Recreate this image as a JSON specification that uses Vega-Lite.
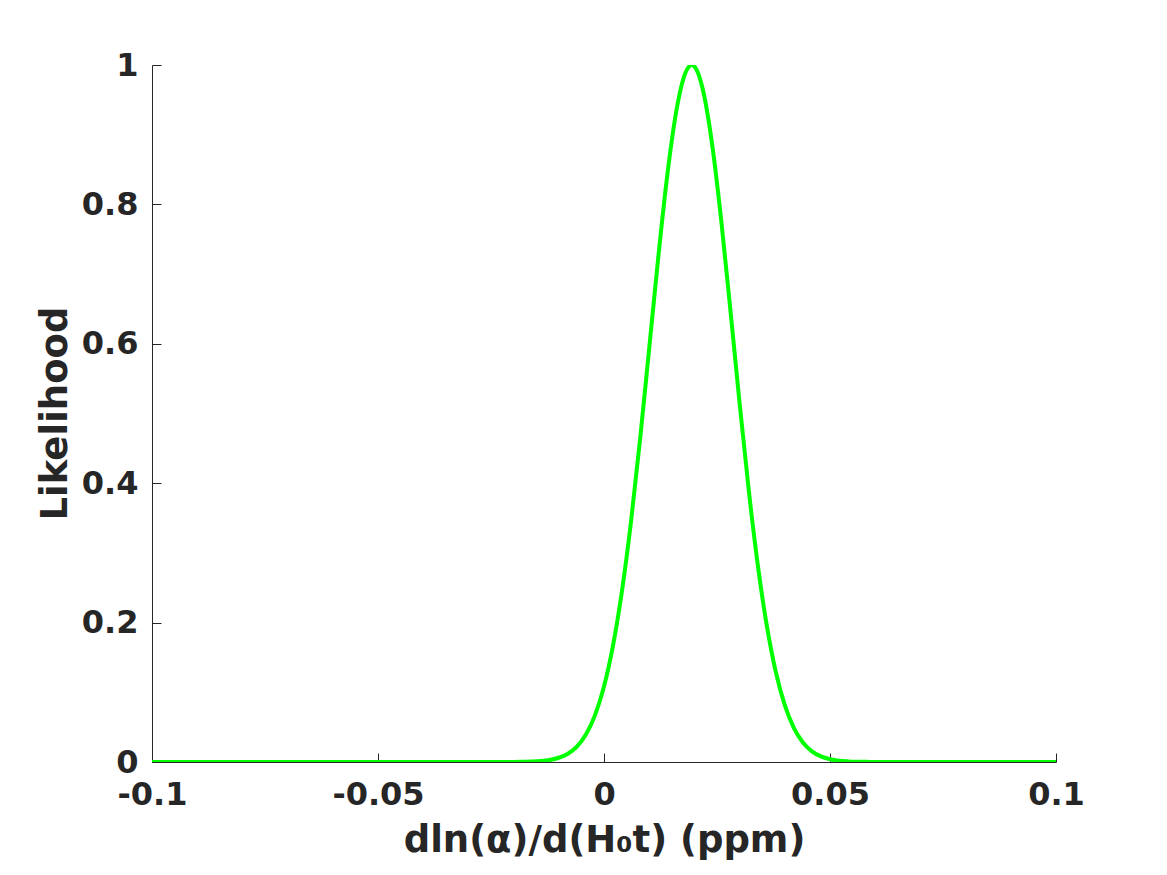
{
  "$schema": "https://vega.github.io/schema/vega-lite/v6.json",
  "autosize": {"type": "none"},
  "width": 904,
  "height": 697,
  "padding": {"left": 152, "top": 65, "right": 111, "bottom": 113},
  "background": "white",
  "config": {
    "view": {"stroke": null},
    "font": "DejaVu Sans"
  },
  "data": {
    "values": [
      {"x": -0.1, "y": 0},
      {"x": -0.08, "y": 0},
      {"x": -0.06, "y": 0},
      {"x": -0.04, "y": 0},
      {"x": -0.03, "y": 0},
      {"x": -0.02, "y": 0.0001},
      {"x": -0.018, "y": 0.0003},
      {"x": -0.016, "y": 0.0006},
      {"x": -0.014, "y": 0.0014},
      {"x": -0.012, "y": 0.003},
      {"x": -0.01, "y": 0.0061},
      {"x": -0.008, "y": 0.0119},
      {"x": -0.006, "y": 0.0221},
      {"x": -0.004, "y": 0.0394},
      {"x": -0.002, "y": 0.0669},
      {"x": 0.0, "y": 0.1082},
      {"x": 0.002, "y": 0.1672},
      {"x": 0.004, "y": 0.2464},
      {"x": 0.006, "y": 0.3462},
      {"x": 0.008, "y": 0.4641},
      {"x": 0.01, "y": 0.5934},
      {"x": 0.012, "y": 0.7236},
      {"x": 0.014, "y": 0.8418},
      {"x": 0.016, "y": 0.934},
      {"x": 0.018, "y": 0.9885},
      {"x": 0.0194, "y": 1.0},
      {"x": 0.02, "y": 0.9979},
      {"x": 0.022, "y": 0.9609},
      {"x": 0.024, "y": 0.8825},
      {"x": 0.026, "y": 0.7731},
      {"x": 0.028, "y": 0.646},
      {"x": 0.03, "y": 0.5149},
      {"x": 0.032, "y": 0.3915},
      {"x": 0.034, "y": 0.2839},
      {"x": 0.036, "y": 0.1964},
      {"x": 0.038, "y": 0.1295},
      {"x": 0.04, "y": 0.0815},
      {"x": 0.042, "y": 0.0489},
      {"x": 0.044, "y": 0.028},
      {"x": 0.046, "y": 0.0153},
      {"x": 0.048, "y": 0.008},
      {"x": 0.05, "y": 0.004},
      {"x": 0.052, "y": 0.0019},
      {"x": 0.054, "y": 0.0009},
      {"x": 0.056, "y": 0.0004},
      {"x": 0.058, "y": 0.0002},
      {"x": 0.06, "y": 0.0001},
      {"x": 0.07, "y": 0},
      {"x": 0.08, "y": 0},
      {"x": 0.1, "y": 0}
    ]
  },
  "mark": {"type": "line", "color": "#00ff00", "strokeWidth": 4, "interpolate": "monotone", "clip": true},
  "encoding": {
    "x": {
      "field": "x",
      "type": "quantitative",
      "scale": {"domain": [-0.1, 0.1], "nice": false, "zero": false},
      "axis": {
        "values": [-0.1, -0.05, 0, 0.05, 0.1],
        "labelExpr": "'' + datum.value",
        "grid": false,
        "domainColor": "#262626",
        "domainWidth": 1,
        "tickColor": "#262626",
        "tickWidth": 1,
        "tickSize": -9,
        "labelFont": "DejaVu Sans",
        "labelFontWeight": "bold",
        "labelFontSize": 32,
        "labelColor": "#262626",
        "labelPadding": 26,
        "labelFlush": false,
        "labelOverlap": false,
        "title": "dln(α)/d(H₀t) (ppm)",
        "titleFont": "DejaVu Sans",
        "titleFontWeight": "bold",
        "titleFontSize": 37,
        "titleColor": "#262626",
        "titleBaseline": "alphabetic",
        "titleX": 452,
        "titleY": 89
      }
    },
    "y": {
      "field": "y",
      "type": "quantitative",
      "scale": {"domain": [0, 1], "nice": false},
      "axis": {
        "values": [0, 0.2, 0.4, 0.6, 0.8, 1],
        "labelExpr": "'' + datum.value",
        "grid": false,
        "domainColor": "#262626",
        "domainWidth": 1,
        "tickColor": "#262626",
        "tickWidth": 1,
        "tickSize": -9,
        "labelFont": "DejaVu Sans",
        "labelFontWeight": "bold",
        "labelFontSize": 32,
        "labelColor": "#262626",
        "labelPadding": 23,
        "labelOverlap": false,
        "title": "Likelihood",
        "titleFont": "DejaVu Sans",
        "titleFontWeight": "bold",
        "titleFontSize": 37,
        "titleColor": "#262626",
        "titleBaseline": "alphabetic",
        "titleAngle": -90,
        "titleX": -86,
        "titleY": 348
      }
    }
  }
}
